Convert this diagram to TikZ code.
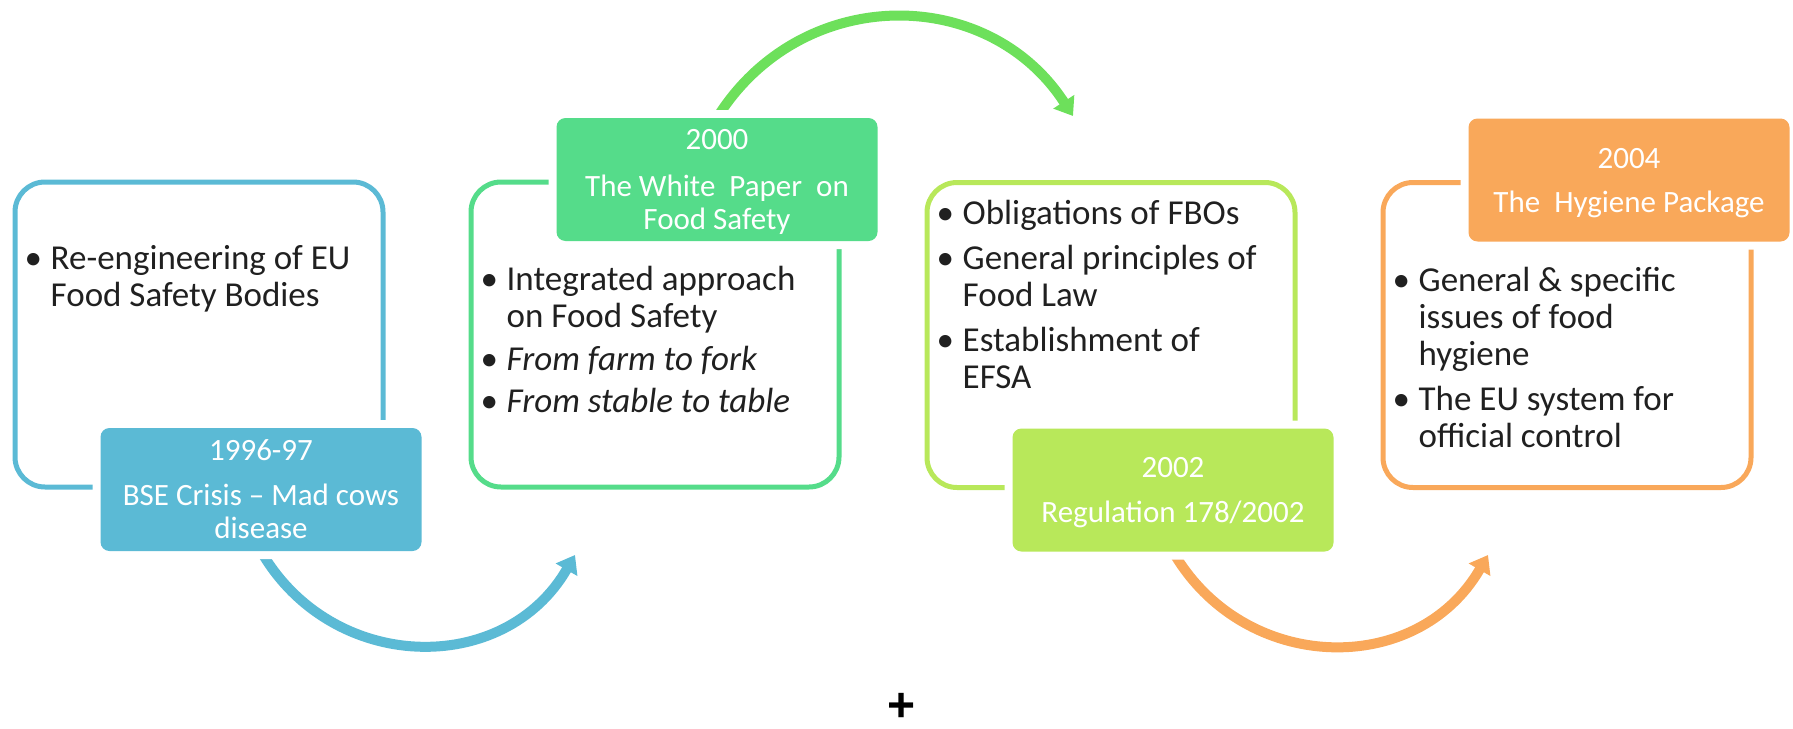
\documentclass[tikz,border=0pt]{standalone}
\usepackage{fontspec}
\setmainfont{Carlito}
\newfontfamily\plusfont{Liberation Sans}
\usetikzlibrary{arrows.meta}
\pgfdeclarelayer{bg}
\pgfsetlayers{bg,main}

\definecolor{bseblue}{HTML}{5BBAD5}
\definecolor{paperg}{HTML}{55DC8A}
\definecolor{arrowg}{HTML}{6DE05B}
\definecolor{lawlime}{HTML}{B8E85A}
\definecolor{hygor}{HTML}{F9A85A}
\definecolor{bodytxt}{HTML}{202020}

% bullet marker and hanging indent for list lines
\newcommand\bul{\makebox[26pt][l]{\textbullet}}
\newcommand\ind{\hspace*{26pt}}

\begin{document}
\begin{tikzpicture}[x=1pt,y=1pt,
  frame/.style={draw, line width=5pt, rounded corners=30pt,
    minimum width=368pt, minimum height=305pt, inner sep=0pt},
  datebox/.style={rounded corners=9pt, minimum width=321pt, minimum height=123pt,
    inner sep=0pt, text=white, align=center, font=\fontsize{31}{33}\selectfont,
    preaction={draw=white, line width=16pt}},
  bullets/.style={anchor=north west, inner sep=0pt, align=left, text=bodytxt,
    font=\fontsize{35}{37}\selectfont},
  flow/.style={line width=10pt, -{Triangle[length=17pt,width=24pt]}}
]
\useasboundingbox (0,0) rectangle (1793,-728);

% outlined content boxes
\node[frame, draw=bseblue] (o1) at (199,-334.5) {};
\node[frame, draw=paperg]  (o2) at (655,-334.5) {};
\node[frame, draw=lawlime] (o3) at (1111,-335) {};
\node[frame, draw=hygor]   (o4) at (1567,-335) {};

% filled date boxes sitting on the frames
\node[datebox, fill=bseblue] (d1) at ([xshift=62pt]o1.south)
  {1996-97\\[12pt]BSE Crisis – Mad cows\\\smash{disease}};
\node[datebox, fill=paperg] (d2) at ([xshift=62pt]o2.north)
  {2000\\[14pt]The White\ \ Paper\ \ on\\\smash{Food Safety}};
\node[datebox, fill=lawlime] (d3) at ([xshift=62pt]o3.south)
  {2002\\[12pt]\smash{Regulation 178/2002}};
\node[datebox, fill=hygor] (d4) at ([xshift=62pt]o4.north)
  {2004\\[11pt]\smash{The\ \ Hygiene Package}};

% bullet lists
\node[bullets] (t1) at ([shift={(12,-64)}]o1.north west)
  {\strut\bul Re-engineering of EU\\\ind Food Safety Bodies};
\node[bullets] (t2) at ([shift={(12,-85)}]o2.north west)
  {\strut\bul Integrated approach\\\ind on Food Safety\\[6pt]\bul\textit{From farm to fork}\\[5pt]\bul\textit{From stable to table}};
\node[bullets] (t3) at ([shift={(12,-18)}]o3.north west)
  {\strut\bul Obligations of FBOs\\[8pt]\bul General principles of\\\ind Food Law\\[8pt]\bul Establishment of\\\ind EFSA};
\node[bullets] (t4) at ([shift={(12,-85)}]o4.north west)
  {\strut\bul General \& specific\\\ind issues of food\\\ind hygiene\\[8pt]\bul The EU system for\\\ind official control};

% arrow targets
\coordinate (e1) at (575,-555);
\coordinate (e2) at (1073,-116);
\coordinate (e3) at (1488,-555);

% curved arrows between the stages
\begin{pgfonlayer}{bg}
\draw[flow, bseblue] (d1.south) to[out=-60, in=-120, looseness=1.15] (e1);
\draw[flow, arrowg]  (d2.north) to[out=58, in=123, looseness=1.13] (e2);
\draw[flow, hygor]   (d3.south) to[out=-60, in=-120, looseness=1.15] (e3);
\end{pgfonlayer}

\node[inner sep=0pt, font=\plusfont\bfseries\fontsize{48}{48}\selectfont] (plus) at (902,-707) {+};
\end{tikzpicture}
\end{document}
